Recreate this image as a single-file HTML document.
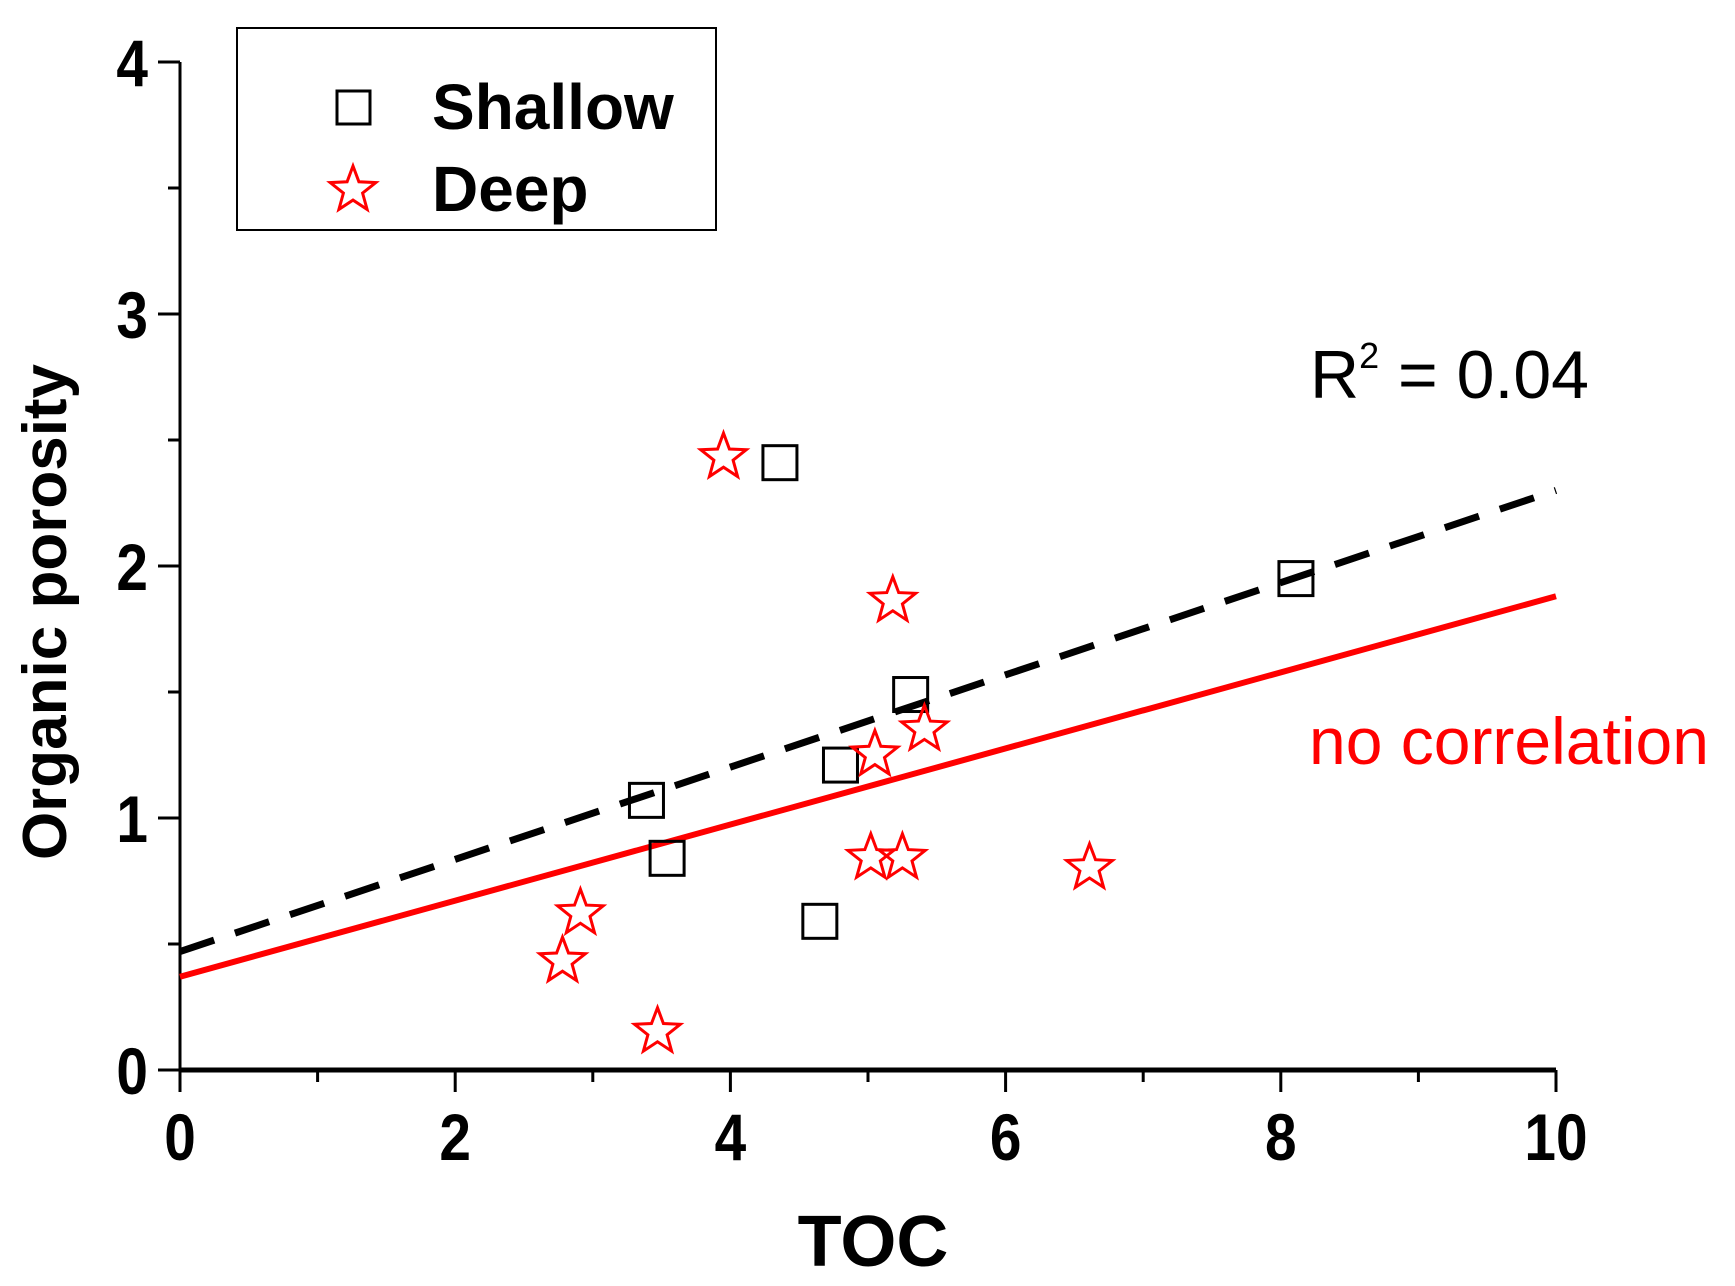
<!DOCTYPE html>
<html><head><meta charset="utf-8"><style>
html,body{margin:0;padding:0;background:#fff;}
svg{display:block;font-family:"Liberation Sans",Arial,sans-serif;}
</style></head><body>
<svg id="chart" width="1735" height="1286" viewBox="0 0 1735 1286">
<g id="axes"></g>
<g id="marks"></g>
<g>
<rect x="237" y="28" width="479" height="202" fill="#fff" stroke="#000" stroke-width="2"/>
<rect x="337" y="91" width="33" height="33" fill="none" stroke="#000" stroke-width="3"/>
<text x="432" y="129" font-size="64" font-weight="bold">Shallow</text>
<polygon id="legstar" fill="none" stroke="#f00" stroke-width="3"/>
<text x="432" y="211" font-size="64" font-weight="bold">Deep</text>
</g>
<text x="1310" y="398" font-size="68">R<tspan font-size="36" dy="-30">2</tspan><tspan dy="30"> = 0.04</tspan></text>
<text x="1309" y="764" font-size="66" fill="#f00">no correlation</text>
<text x="873" y="1266" font-size="72" font-weight="bold" text-anchor="middle">TOC</text>
<text transform="translate(66,612) rotate(-90)" font-size="62" font-weight="bold" text-anchor="middle">Organic porosity</text>
</svg>
<script>
const xTicks=[0,2,4,6,8,10];
const yTicks=[0,1,2,3,4];
const shallowX=[3.39,3.54,4.36,4.65,4.80,5.31,8.11];
const shallowY=[1.07,0.84,2.41,0.59,1.21,1.49,1.95];
const deepX=[3.95,5.18,5.41,5.05,5.02,5.25,6.61,2.91,2.78,3.47];
const deepY=[2.44,1.87,1.36,1.26,0.85,0.85,0.81,0.63,0.44,0.16];
const shallowFit=[0.47,2.30];
const deepFit=[0.37,1.88];
const fitX=[0,10];

const X0=180,X1=1556,Y0=1070,Y1=62;
const sx=v=>X0+(v-0)/(10-0)*(X1-X0);
const sy=v=>Y0-(v-0)/(4-0)*(Y0-Y1);
const NS="http://www.w3.org/2000/svg";
const axes=document.getElementById('axes'),marks=document.getElementById('marks');
function mk(tag,attrs,parent){const e=document.createElementNS(NS,tag);for(const k in attrs)e.setAttribute(k,attrs[k]);parent.appendChild(e);return e;}
function starPts(cx,cy,R){const r=R*0.42;let p=[];for(let i=0;i<10;i++){const a=-Math.PI/2+i*Math.PI/5;const rr=i%2?r:R;p.push((cx+rr*Math.cos(a)).toFixed(1)+','+(cy+rr*Math.sin(a)).toFixed(1));}return p.join(' ');}
document.getElementById('legstar').setAttribute('points',starPts(353,190,24));

let l=mk('line',{x1:X0,y1:Y0,x2:X1,y2:Y0,stroke:'#000','stroke-width':5},axes);


l=mk('line',{x1:X0,y1:Y0+2,x2:X0,y2:Y1,stroke:'#000','stroke-width':3},axes);


for(let v=0;v<=10;v++){const major=v%2===0;const t=mk('line',{x1:sx(v),y1:Y0,x2:sx(v),y2:Y0+(major?22:12),stroke:'#000','stroke-width':3},axes);

}
xTicks.forEach(v=>{const t=mk('text',{transform:'translate('+sx(v)+',1160) scale(0.86,1)','font-size':66,'font-weight':'bold','text-anchor':'middle'},axes);t.textContent=v;

});
for(let i=0;i<=8;i++){const v=i/2;const major=i%2===0;const t=mk('line',{x1:X0,y1:sy(v),x2:X0-(major?22:12),y2:sy(v),stroke:'#000','stroke-width':3},axes);

}
yTicks.forEach(v=>{const t=mk('text',{transform:'translate(148,'+(sy(v)+24)+') scale(0.86,1)','font-size':66,'font-weight':'bold','text-anchor':'end'},axes);t.textContent=v;

});

let f=mk('line',{x1:sx(fitX[0]),y1:sy(shallowFit[0]),x2:sx(fitX[1]),y2:sy(shallowFit[1]),stroke:'#000','stroke-width':7,'stroke-dasharray':'36,22'},marks);


f=mk('line',{x1:sx(fitX[0]),y1:sy(deepFit[0]),x2:sx(fitX[1]),y2:sy(deepFit[1]),stroke:'#f00','stroke-width':6},marks);


shallowX.forEach((x,i)=>{const r=mk('rect',{x:sx(x)-17,y:sy(shallowY[i])-17,width:34,height:34,fill:'none',stroke:'#000','stroke-width':3},marks);

});
deepX.forEach((x,i)=>{const p=mk('polygon',{points:starPts(sx(x),sy(deepY[i])+2,24),fill:'none',stroke:'#f00','stroke-width':3},marks);

});
</script>
</body></html>
